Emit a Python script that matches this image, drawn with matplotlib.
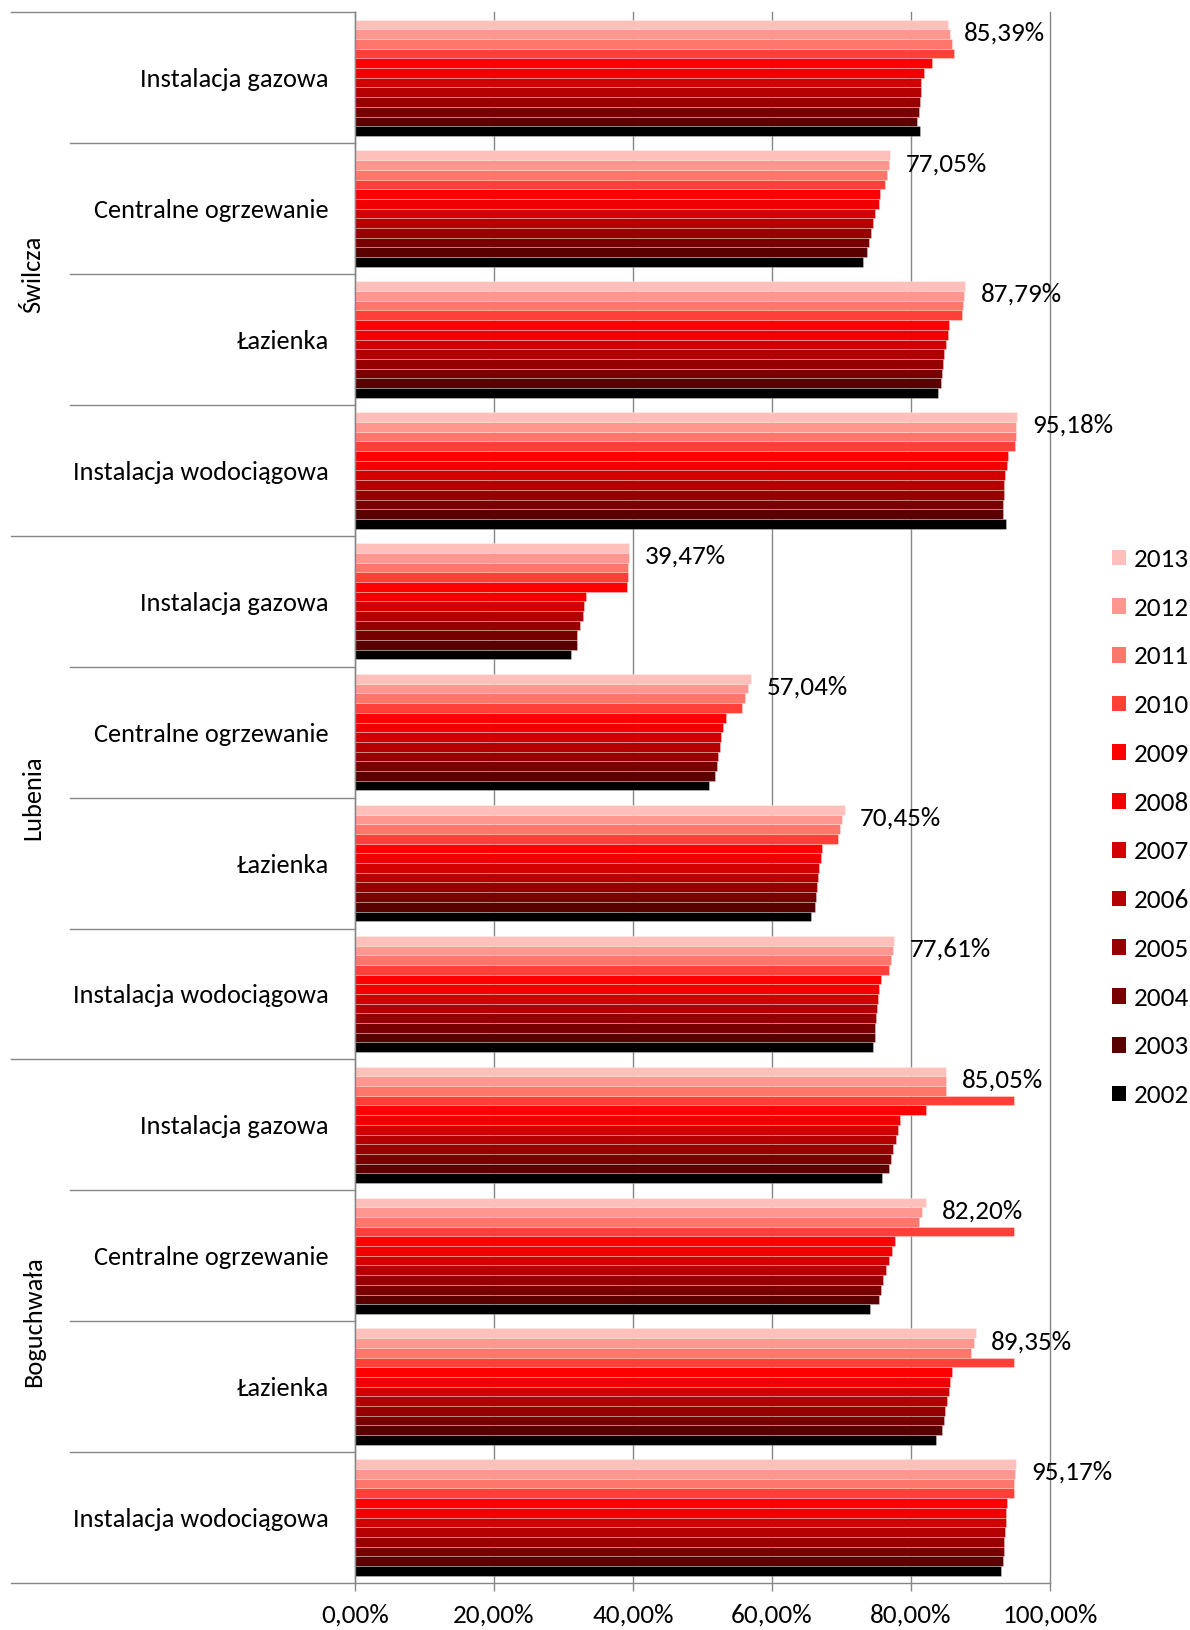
import numpy as np
import matplotlib
matplotlib.use('Agg')
import matplotlib.pyplot as plt
from matplotlib.patches import Patch
from matplotlib.ticker import FuncFormatter

plt.rcParams['font.family'] = ['Carlito', 'Lato', 'DejaVu Sans']

# Dane: udział mieszkań wyposażonych w instalacje (%)
years = ['2013', '2012', '2011', '2010', '2009', '2008', '2007', '2006', '2005', '2004', '2003', '2002']
colors = ['#FFBFBA', '#FF968F', '#FF766B', '#FF4038', '#FF0000', '#F00000',
          '#D20000', '#B40000', '#960000', '#780000', '#5A0000', '#000000']

gminy = ['Świlcza', 'Lubenia', 'Boguchwała']
kategorie = ['Instalacja gazowa', 'Centralne ogrzewanie', 'Łazienka', 'Instalacja wodociągowa']

# kolejnosc wierszy: 2013 ... 2002
swilcza_gaz = [85.39, 85.66, 85.95, 86.24, 83.08, 81.94, 81.50, 81.43, 81.29, 81.08, 80.86, 81.29]
swilcza_co = [77.05, 76.77, 76.56, 76.27, 75.56, 75.34, 74.77, 74.48, 74.27, 73.98, 73.69, 73.05]
swilcza_laz = [87.79, 87.60, 87.46, 87.31, 85.52, 85.38, 85.02, 84.80, 84.66, 84.44, 84.30, 83.94]
swilcza_wod = [95.18, 95.13, 95.05, 94.98, 93.91, 93.83, 93.48, 93.40, 93.33, 93.26, 93.19, 93.62]

lubenia_gaz = [39.47, 39.40, 39.30, 39.30, 39.10, 33.30, 33.00, 32.80, 32.40, 32.00, 31.90, 31.10]
lubenia_co = [57.04, 56.56, 56.06, 55.63, 53.40, 52.97, 52.69, 52.47, 52.26, 52.04, 51.83, 50.97]
lubenia_laz = [70.45, 70.10, 69.75, 69.46, 67.24, 67.03, 66.81, 66.60, 66.45, 66.31, 66.24, 65.59]
lubenia_wod = [77.61, 77.35, 77.06, 76.85, 75.63, 75.41, 75.27, 75.13, 74.98, 74.84, 74.84, 74.55]

bogu_gaz = [85.05, 85.09, 85.09, 94.77, 82.22, 78.42, 78.06, 77.78, 77.35, 77.06, 76.77, 75.77]
bogu_co = [82.20, 81.65, 81.08, 94.77, 77.63, 77.28, 76.77, 76.42, 75.91, 75.63, 75.34, 74.05]
bogu_laz = [89.35, 89.03, 88.60, 94.77, 85.88, 85.66, 85.45, 85.23, 84.95, 84.73, 84.52, 83.58]
bogu_wod = [95.17, 94.98, 94.84, 94.77, 93.84, 93.69, 93.62, 93.55, 93.40, 93.33, 93.26, 92.90]

dane = np.array([swilcza_gaz, swilcza_co, swilcza_laz, swilcza_wod,
                 lubenia_gaz, lubenia_co, lubenia_laz, lubenia_wod,
                 bogu_gaz, bogu_co, bogu_laz, bogu_wod])

FS = 19.5
fig = plt.figure(figsize=(11.9, 16.3), dpi=100)
ax = fig.add_axes([355 / 1190, 1 - 1583 / 1630, 695 / 1190, (1583 - 12.3) / 1630])

n_cat = dane.shape[0]
gap = 0.0555
h = (1 - 2 * gap) / len(years)
grey = '#868686'

for k, (rok, kol) in enumerate(zip(years, colors)):
    y = np.arange(n_cat) + gap + (k + 0.5) * h
    ax.barh(y, dane[:, k], height=h, color=kol, edgecolor=(1, 1, 1, 0.35),
            linewidth=0.6, label=rok, zorder=2)

# etykiety wartosci dla 2013
for i in range(n_cat):
    v = dane[i, 0]
    ax.annotate(f'{v:.2f}%'.replace('.', ','), xy=(v, i + gap + 0.5 * h),
                xytext=(11, -6), textcoords='offset points',
                ha='left', va='center', fontsize=FS, color='#000000')

ax.set_xlim(0, 100)
ax.set_ylim(n_cat, 0)
ax.set_xticks(np.arange(0, 101, 20))
ax.xaxis.set_major_formatter(FuncFormatter(lambda x, p: f'{x:.2f}%'.replace('.', ',')))
ax.grid(axis='x', color=grey, linewidth=1.0, zorder=0)
ax.set_axisbelow(True)
for gl in ax.get_xgridlines():
    gl.set_clip_on(False)

ax.set_yticks(np.arange(n_cat) + 0.5)
ax.set_yticklabels(kategorie * len(gminy))
ax.tick_params(axis='y', length=0, pad=19, labelsize=19)
ax.tick_params(axis='x', length=6, width=1.0, color=grey, pad=9, labelsize=FS)

for s in ['top', 'right']:
    ax.spines[s].set_visible(False)
for s in ['left', 'bottom']:
    ax.spines[s].set_color(grey)
    ax.spines[s].set_linewidth(1.0)

# linie podzialu kategorii po lewej stronie
trans = matplotlib.transforms.blended_transform_factory(ax.transAxes, ax.transData)
for b in range(n_cat + 1):
    x0 = -0.495 if b % 4 == 0 else -0.41
    ax.plot([x0, 0], [b, b], color=grey, linewidth=1.0, transform=trans, clip_on=False)

for g, nazwa in enumerate(gminy):
    ax.text(-0.463, g * 4 + 2, nazwa, transform=trans, rotation=90,
            ha='center', va='center', fontsize=19)

handles = [Patch(facecolor=c, edgecolor='none') for c in colors]
fig.legend(handles, years, loc='upper left', bbox_to_anchor=(1112 / 1190, 1 - 548 / 1630),
           frameon=False, fontsize=FS, handlelength=0.52, handleheight=0.52,
           handletextpad=0.3, labelspacing=0.95, borderaxespad=0, borderpad=0)

fig.savefig('out.png', dpi=100)
